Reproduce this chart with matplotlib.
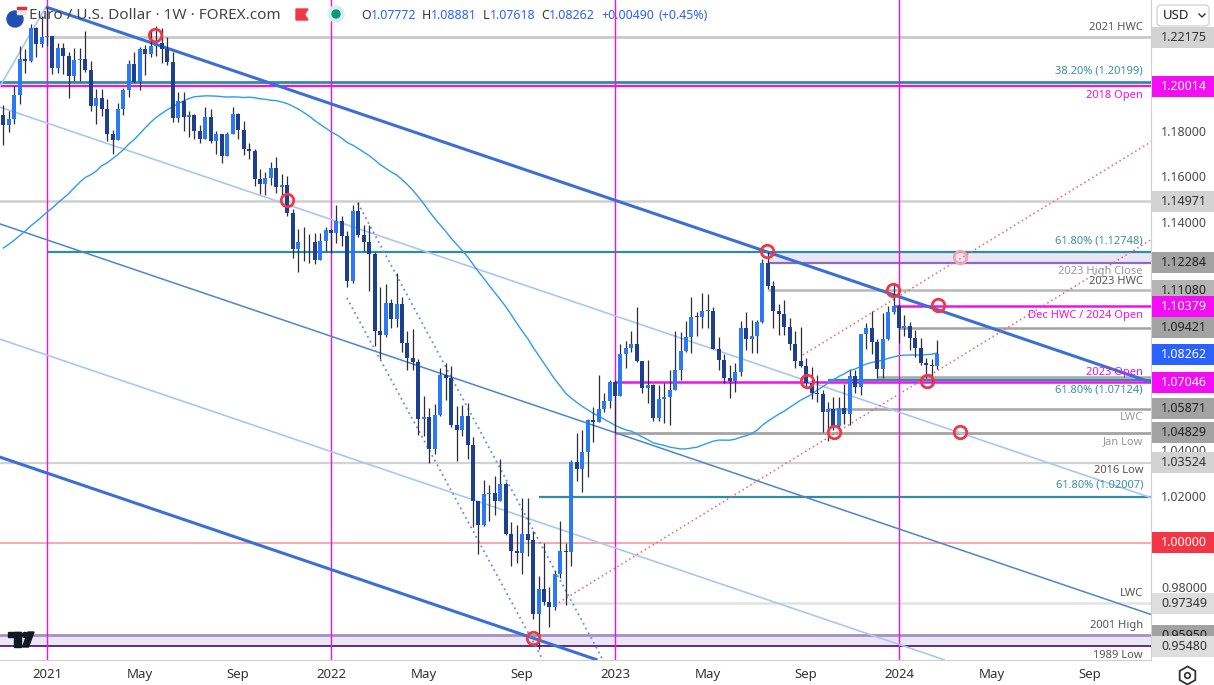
import matplotlib
matplotlib.use("Agg")
import matplotlib.pyplot as plt
import matplotlib.transforms as mtrans
from matplotlib.patches import Rectangle, FancyBboxPatch, Circle, Polygon
import numpy as np

plt.rcParams['font.family'] = ['Noto Sans', 'DejaVu Sans']

# weekly EUR/USD bars, bar 0 = week of 9 Nov 2020, bar 171 = week of 19 Feb 2024
closes = [
    1.1834, 1.1858, 1.1962, 1.2121, 1.2113, 1.2255, 1.2186, 1.2216,
    # 2021
    1.2220, 1.2081, 1.2169, 1.2136, 1.2045, 1.2118, 1.2119, 1.2075,
    1.1914, 1.1951, 1.1904, 1.1794, 1.1764, 1.1900, 1.1984, 1.2097, 1.2020,
    1.2165, 1.2143, 1.2180, 1.2192, 1.2166, 1.2109, 1.1864, 1.1937, 1.1865,
    1.1874, 1.1806, 1.1770, 1.1869, 1.1763, 1.1793, 1.1696, 1.1794, 1.1878,
    1.1812, 1.1726, 1.1720, 1.1597, 1.1574, 1.1600, 1.1645, 1.1558,
    1.1567, 1.1445, 1.1289, 1.1319, 1.1317, 1.1317, 1.1238, 1.1322, 1.1370,
    # 2022
    1.1359, 1.1412, 1.1345, 1.1147, 1.1453, 1.1350, 1.1320, 1.1267, 1.0930,
    1.0912, 1.1052, 1.0981, 1.1049, 1.0878, 1.0812, 1.0793, 1.0545,
    1.0552, 1.0413, 1.0562, 1.0734, 1.0722, 1.0518, 1.0494, 1.0555, 1.0430,
    1.0184, 1.0080, 1.0213, 1.0220, 1.0184, 1.0258, 1.0039, 0.9964, 0.9954,
    1.0041, 1.0015, 0.9689, 0.9799, 0.9741, 0.9721, 0.9862, 0.9966, 0.9960,
    1.0355, 1.0325, 1.0400, 1.0538, 1.0530, 1.0585, 1.0624, 1.0704,
    # 2023
    1.0645, 1.0830, 1.0856, 1.0870, 1.0797, 1.0677, 1.0694, 1.0548, 1.0633,
    1.0641, 1.0669, 1.0760, 1.0842, 1.0902, 1.0992, 1.0989, 1.1017,
    1.1018, 1.0850, 1.0804, 1.0723, 1.0709, 1.0751, 1.0940, 1.0893, 1.0909,
    1.0967, 1.1228, 1.1125, 1.1016, 1.1005, 1.0948, 1.0872, 1.0796, 1.0776,
    1.0699, 1.0659, 1.0653, 1.0573, 1.0587, 1.0511, 1.0593, 1.0566, 1.0730,
    1.0684, 1.0914, 1.0940, 1.0880, 1.0761, 1.0894, 1.1012, 1.1038,
    # 2024
    1.0941, 1.0950, 1.0897, 1.0855, 1.0790, 1.0782, 1.0777, 1.08262,
]
highs = [
    1.1920, 1.1894, 1.2004, 1.2177, 1.2164, 1.2273, 1.2260, 1.2310,
    1.2349, 1.2223, 1.2190, 1.2190, 1.2150, 1.2169, 1.2169, 1.2243,
    1.2113, 1.1990, 1.1989, 1.1945, 1.1810, 1.1927, 1.1994, 1.2117, 1.2150,
    1.2173, 1.2181, 1.2245, 1.2266, 1.2255, 1.2218, 1.2150, 1.1975, 1.1975,
    1.1895, 1.1880, 1.1833, 1.1909, 1.1900, 1.1805, 1.1790, 1.1802, 1.1909,
    1.1885, 1.1849, 1.1752, 1.1725, 1.1641, 1.1624, 1.1669, 1.1692,
    1.1616, 1.1609, 1.1464, 1.1374, 1.1383, 1.1355, 1.1360, 1.1360, 1.1386,
    1.1376, 1.1482, 1.1435, 1.1369, 1.1483, 1.1495, 1.1395, 1.1395, 1.1274,
    1.1121, 1.1137, 1.1070, 1.1185, 1.1076, 1.0929, 1.0936, 1.0806,
    1.0642, 1.0593, 1.0607, 1.0765, 1.0787, 1.0774, 1.0601, 1.0605, 1.0615,
    1.0463, 1.0186, 1.0278, 1.0254, 1.0294, 1.0368, 1.0269, 1.0090, 1.0079,
    1.0198, 1.0197, 1.0051, 0.9853, 0.9999, 0.9808, 0.9876, 1.0094, 1.0000,
    1.0365, 1.0481, 1.0497, 1.0545, 1.0595, 1.0737, 1.0658, 1.0713,
    1.0713, 1.0874, 1.0887, 1.0930, 1.1033, 1.0798, 1.0804, 1.0695, 1.0691,
    1.0701, 1.0760, 1.0930, 1.0926, 1.0973, 1.1076, 1.1011, 1.1095,
    1.1092, 1.1035, 1.0903, 1.0830, 1.0780, 1.0787, 1.0971, 1.1012, 1.0977,
    1.0975, 1.1244, 1.1276, 1.1149, 1.1046, 1.1065, 1.0987, 1.0930, 1.0945,
    1.0812, 1.0769, 1.0737, 1.0670, 1.0617, 1.0640, 1.0639, 1.0695, 1.0756,
    1.0756, 1.0916, 1.0965, 1.1017, 1.0895, 1.1009, 1.1040, 1.1139,
    1.1046, 1.0998, 1.0968, 1.0932, 1.0897, 1.0812, 1.0806, 1.08881,
]
lows = [
    1.1745, 1.1801, 1.1836, 1.1925, 1.2058, 1.2110, 1.2130, 1.2175,
    1.2180, 1.2054, 1.2060, 1.2055, 1.1952, 1.2024, 1.2023, 1.2062,
    1.1893, 1.1836, 1.1873, 1.1762, 1.1704, 1.1764, 1.1875, 1.1955, 1.2017,
    1.1986, 1.2052, 1.2130, 1.2133, 1.2103, 1.2093, 1.1847, 1.1847, 1.1807,
    1.1781, 1.1772, 1.1751, 1.1770, 1.1753, 1.1705, 1.1664, 1.1702, 1.1792,
    1.1772, 1.1700, 1.1683, 1.1563, 1.1529, 1.1524, 1.1571, 1.1535,
    1.1513, 1.1432, 1.1249, 1.1186, 1.1234, 1.1228, 1.1222, 1.1246, 1.1279,
    1.1272, 1.1313, 1.1300, 1.1121, 1.1140, 1.1340, 1.1280, 1.1106, 1.0862,
    1.0806, 1.0902, 1.0944, 1.0945, 1.0837, 1.0757, 1.0758, 1.0471,
    1.0470, 1.0350, 1.0389, 1.0557, 1.0627, 1.0507, 1.0359, 1.0470, 1.0366,
    1.0072, 0.9952, 1.0074, 1.0097, 1.0123, 1.0187, 1.0033, 0.9900, 0.9910,
    0.9864, 0.9944, 0.9667, 0.9536, 0.9730, 0.9632, 0.9705, 0.9848, 0.9730,
    0.9899, 1.0271, 1.0223, 1.0290, 1.0443, 1.0554, 1.0574, 1.0590,
    1.0483, 1.0646, 1.0766, 1.0835, 1.0791, 1.0655, 1.0613, 1.0533, 1.0533,
    1.0524, 1.0516, 1.0712, 1.0713, 1.0835, 1.0832, 1.0909, 1.0942,
    1.0942, 1.0849, 1.0760, 1.0702, 1.0635, 1.0663, 1.0732, 1.0845, 1.0833,
    1.0834, 1.0966, 1.1114, 1.0943, 1.0912, 1.0913, 1.0845, 1.0766, 1.0770,
    1.0686, 1.0631, 1.0617, 1.0488, 1.0448, 1.0496, 1.0496, 1.0522, 1.0516,
    1.0656, 1.0650, 1.0852, 1.0828, 1.0723, 1.0723, 1.0888, 1.1005,
    1.0877, 1.0907, 1.0844, 1.0813, 1.0780, 1.0722, 1.0695, 1.07618,
]
# closes of the 52 weeks before bar 0 (Nov 2019 - Nov 2020), seed the 52w average
pre_closes = [
    1.1052, 1.1019, 1.1017, 1.1060, 1.1122, 1.1080, 1.1177, 1.1163,
    1.1121, 1.1090, 1.1026, 1.1093, 1.0943, 1.0831, 1.0847, 1.1026, 1.1284,
    1.1106, 1.0694, 1.1141, 1.0804, 1.0937, 1.0874, 1.0819, 1.0982, 1.0836,
    1.0817, 1.0900, 1.1100, 1.1290, 1.1255, 1.1177, 1.1218, 1.1248, 1.1300,
    1.1428, 1.1655, 1.1777, 1.1786, 1.1842, 1.1797, 1.1903, 1.1838, 1.1845,
    1.1842, 1.1633, 1.1715, 1.1826, 1.1718, 1.1860, 1.1646, 1.1876,
]

tick_bars = [8, 25, 43, 60, 77, 95, 112, 129, 147, 164, 181, 199]
tick_labels = ['2021', 'May', 'Sep', '2022', 'May', 'Sep', '2023', 'May', 'Sep', '2024', 'May', 'Sep']
year_bars = [8, 60, 112, 164]

# horizontal levels
level_prices = [1.22175, 1.20199, 1.20014, 1.14971, 1.12748, 1.11080, 1.10379, 1.09421,
                1.07280, 1.07124, 1.07046, 1.05871, 1.04829, 1.03524, 1.02007, 1.00000,
                0.97349]
level_starts = [8.5, -1, -1, -1, 8, 140, 163, 164, 160, 151, 112, 151, 112, -1, 98, -1, 101]
level_labels = ['2021 HWC', '38.20% (1.20199)', '2018 Open', '', '61.80% (1.12748)', '2023 HWC',
                'Dec HWC / 2024 Open', '', '', '61.80% (1.07124)', '2023 Open', 'LWC', 'Jan Low',
                '2016 Low', '61.80% (1.02007)', '', 'LWC']

# shaded zones
zone_lo = [1.12284, 0.95480]
zone_hi = [1.12748, 0.95950]
zone_starts = [140, -1]
zone_labels_lo = ['2023 High Close', '1989 Low']
zone_labels_hi = ['', '2001 High']

# drawn trend lines, (bar, price) end points
thick_lines = [[(7.8, 1.2349), (210.2, 1.0704)],
               [(-0.7, 1.0377), (108.8, 0.9487)]]
mid_lines = [[(-0.7, 1.1399), (210.2, 0.9686)]]
light_lines = [[(-0.7, 1.1911), (210.2, 1.0198)],
               [(-0.7, 1.0894), (172.4, 0.9487)],
               [(-0.7, 1.1998), (7.8, 1.2349)]]
blue_dotted = [[(62.9, 1.1074), (98.8, 0.9487)],
               [(64.9, 1.1490), (109.8, 0.9487)]]
red_dotted = [[(101.0, 0.9728), (210.2, 1.1330)],
              [(146.4, 1.0824), (210.2, 1.1759)]]

# red circle marks
circle_bars = [27.8, 51.9, 97.0, 139.8, 147.2, 152.1, 162.9, 171.1, 169.1, 175.2]
circle_prices = [1.2226, 1.1503, 0.9583, 1.1280, 1.0710, 1.0486, 1.1109, 1.1043, 1.0710, 1.0486]
faint_circle = (175.2, 1.1253)

# price scale
axis_ticks = [1.18, 1.16, 1.14, 1.04, 1.02, 0.98]
tag_prices = [1.22175, 1.20014, 1.14971, 1.12284, 1.11080, 1.10379, 1.09421, 1.08262,
              1.07046, 1.05871, 1.04829, 1.03524, 1.00000, 0.97349, 0.95950, 0.95480]
tag_kinds = ['light', 'magenta', 'light', 'dark', 'mid', 'magenta', 'dark', 'blue',
             'magenta', 'dark', 'dark', 'light', 'red', 'pale', 'dark', 'pale']

header_name = 'Euro / U.S. Dollar · 1W · FOREX.com'
header_ohlc = [('O', '1.07772'), ('H', '1.08881'), ('L', '1.07618'), ('C', '1.08262')]
header_change = ['+0.00490', '(+0.45%)']

# ------------------------------------------------------------------
W, H = 1214, 685
PX = 0.0004383          # price per pixel
fig = plt.figure(figsize=(W / 100, H / 100), dpi=100)
ax = fig.add_axes([0, 25 / H, 1151 / W, 660 / H])
XMAX = -0.606 + 1151 / 5.4615
YTOP = 1.23797
YBOT = YTOP - 660 * PX
ax.set_xlim(-0.606, XMAX)
ax.set_ylim(YBOT, YTOP)

MAG = '#f20df2'
TEAL = '#2f8ca3'
TEAL_TXT = '#3c8fa2'

# zones
for lo, hi, st in zip(zone_lo, zone_hi, zone_starts):
    ax.fill_between([st, XMAX + 1], lo, hi, color='#ebe6f6', lw=0, zorder=1)
ax.hlines(zone_lo[0], zone_starts[0], XMAX + 1, color='#8d6cc0', lw=1.6, zorder=2)
ax.hlines(zone_hi[1], -1, XMAX + 1, color='#a590c2', lw=2.0, zorder=2)
ax.hlines(zone_lo[1], -1, XMAX + 1, color='#5e2d86', lw=1.4, zorder=2)

level_style = {
    '2021 HWC': ('#c9c9c9', 2.0), '38.20% (1.20199)': (TEAL, 2.0), '2018 Open': (MAG, 1.6),
    '61.80% (1.12748)': (TEAL, 1.6), '2023 HWC': ('#b8b8b8', 1.8),
    'Dec HWC / 2024 Open': (MAG, 1.8), '61.80% (1.07124)': (TEAL, 1.6),
    '2023 Open': (MAG, 1.8), 'LWC': ('#a3a3a3', 1.8), 'Jan Low': ('#a3a3a3', 2.0),
    '2016 Low': ('#d2d2d2', 1.6), '61.80% (1.02007)': (TEAL, 1.6),
}
other_level_style = {1.14971: ('#cfcfcf', 1.8), 1.09421: ('#a3a3a3', 1.8),
                     1.07280: ('#a8a8a8', 1.8), 1.00000: ('#f7a9ad', 1.4),
                     0.97349: ('#e2e2e2', 1.8)}
for p, st, lab in zip(level_prices, level_starts, level_labels):
    if lab in level_style:
        col, lw = level_style[lab]
    else:
        col, lw = other_level_style[p]
    if lab == 'LWC' and p < 1.0:
        col = '#e2e2e2'
    ax.hlines(p, st, XMAX + 1, color=col, lw=lw, zorder=2)

for b in year_bars:
    ax.axvline(b, color=MAG, lw=1.0, zorder=2)

def seg(lines, **kw):
    for (x0, y0), (x1, y1) in lines:
        ax.plot([x0, x1], [y0, y1], solid_capstyle='butt', **kw)

seg(light_lines, color='#a9c7f5', lw=1.2, zorder=3)
seg(mid_lines, color='#4a86d2', lw=1.1, zorder=3)
seg(thick_lines, color='#3a6fd6', lw=2.2, zorder=3)
seg(blue_dotted, color='#5b8ef2', lw=1.3, ls=(0, (1, 2)), zorder=3)
seg(red_dotted, color='#f0606e', lw=1.1, ls=(0, (1, 2)), zorder=3)

# 52 week moving average
all_closes = np.array(pre_closes + closes)
ma = np.array([all_closes[i + 1:i + 53].mean() for i in range(len(closes))])
bars = np.arange(len(closes))
ax.plot(bars, ma, color='#2e9cf2', lw=1.0, zorder=4)

# candles
closes_a = np.array(closes)
opens_a = np.array([pre_closes[-1]] + closes[:-1])
highs_a = np.maximum(np.array(highs), np.maximum(opens_a, closes_a))
lows_a = np.minimum(np.array(lows), np.minimum(opens_a, closes_a))
up = closes_a >= opens_a
ax.vlines(bars, lows_a, highs_a, color='#2a2e39', lw=0.9, zorder=5)
body_lo = np.minimum(opens_a, closes_a)
body_h = np.maximum(np.abs(closes_a - opens_a), 0.0004)
ax.bar(bars, body_h, bottom=body_lo, width=0.72,
       color=np.where(up, '#2b79f3', '#1c3f8f'), lw=0, zorder=6)

# circles
ax.plot(circle_bars, circle_prices, 'o', ms=9, mfc='none', mec='#f23645', mew=2.0, zorder=7)
ax.plot([faint_circle[0]], [faint_circle[1]], 'o', ms=9, mfc='none', mec='#f5a3aa', mew=2.0, zorder=7)

# level labels
tr = mtrans.blended_transform_factory(ax.transAxes, ax.transData)
XL = 1143 / 1151
LFS = 8.0
lab_look = {
    '2021 HWC': ('#555555', 10), '38.20% (1.20199)': (TEAL_TXT, 11), '2018 Open': (MAG, -9),
    '61.80% (1.12748)': (TEAL_TXT, 11), '2023 HWC': ('#555555', 9),
    'Dec HWC / 2024 Open': (MAG, -9), '2023 Open': (MAG, 10),
    '61.80% (1.07124)': (TEAL_TXT, -10), 'Jan Low': ('#9a9a9a', -9),
    '2016 Low': ('#555555', -8), '61.80% (1.02007)': (TEAL_TXT, 12),
}
for p, lab in zip(level_prices, level_labels):
    if not lab:
        continue
    if lab == 'LWC':
        col, dy = ('#9a9a9a', -9) if p > 1.0 else ('#555555', 10)
    else:
        col, dy = lab_look[lab]
    ax.text(XL, p + dy * PX, lab, transform=tr, ha='right', va='center',
            fontsize=LFS, color=col, zorder=8)
ax.text(XL, zone_lo[0] - 9 * PX, zone_labels_lo[0], transform=tr, ha='right', va='center',
        fontsize=LFS, color='#9a9a9a', zorder=8)
ax.text(XL, zone_lo[1] - 9 * PX, zone_labels_lo[1], transform=tr, ha='right', va='center',
        fontsize=LFS, color='#555555', zorder=8)
ax.text(XL, zone_hi[1] + 10 * PX, zone_labels_hi[1], transform=tr, ha='right', va='center',
        fontsize=LFS, color='#555555', zorder=8)

# x axis
ax.set_yticks([])
ax.set_xticks(tick_bars)
ax.set_xticklabels(tick_labels, fontsize=9.5, color='#333333')
for t, lab in zip(ax.get_xticklabels(), tick_labels):
    if lab.isdigit():
        t.set_fontweight('bold')
ax.tick_params(axis='x', length=0, pad=6)
for s in ['top', 'left']:
    ax.spines[s].set_visible(False)
ax.spines['bottom'].set_color('#d0d0d0')
ax.spines['right'].set_color('#d0d0d0')

# price scale
ax2 = fig.add_axes([1151 / W, 25 / H, 63 / W, 660 / H])
ax2.set_xlim(0, 1)
ax2.set_ylim(YBOT, YTOP)
ax2.axis('off')
for p in axis_ticks:
    ax2.text(0.53, p, f'{p:.5f}', ha='center', va='center', fontsize=9, color='#4a4a4a',
             zorder=0.5)
kind_col = {'light': ('#d3d3d3', '#333333'), 'pale': ('#dedede', '#333333'),
            'dark': ('#a2a2a2', '#222222'), 'mid': ('#b4b4b4', '#222222'),
            'magenta': (MAG, 'white'), 'blue': ('#2962ff', 'white'), 'red': ('#f23645', 'white')}
th = 21 * PX
for i, (p, k) in enumerate(zip(tag_prices, tag_kinds)):
    fc, tc = kind_col[k]
    ax2.add_patch(Rectangle((0.02, p - th / 2), 0.98, th, fc=fc, ec='none', zorder=1 + 2 * i))
    bold = k in ('magenta', 'blue', 'red')
    ax2.text(0.53, p, f'{p:.5f}', ha='center', va='center', fontsize=9, color=tc,
             fontweight='bold' if bold else 'normal', zorder=2 + 2 * i)

# chrome overlay in pixel coordinates
ov = fig.add_axes([0, 0, 1, 1])
ov.set_xlim(0, W)
ov.set_ylim(H, 0)
ov.axis('off')
ov.patch.set_alpha(0)

ov.add_patch(Circle((15, 19), 8, color='#1f4fb0'))
ov.add_patch(Rectangle((17, 7), 9, 7, color='#e8e8f0'))
ov.add_patch(Rectangle((17, 7), 9, 2, color='#e03040'))
ov.text(29, 15, header_name, fontsize=11, color='#444444', va='center', ha='left')
ov.add_patch(Polygon([(296, 9), (308, 9), (304.5, 14.5), (308, 20), (296, 20)], color='#f23645'))
ov.add_patch(Circle((336, 14), 8, color='#d9f0ea'))
ov.add_patch(Circle((336, 14), 4, color='#089981'))

fig.canvas.draw()
rend = fig.canvas.get_renderer()
xcur = 361
def put(s, col):
    global xcur
    t = ov.text(xcur, 15, s, fontsize=8.9, color=col, va='center', ha='left')
    bb = t.get_window_extent(renderer=rend)
    xcur += bb.width
    return t
for letter, val in header_ohlc:
    put(letter, '#333333')
    put(val, '#2962ff')
    xcur += 6
for s in header_change:
    put(s, '#2962ff')
    xcur += 5

# USD selector
ov.add_patch(FancyBboxPatch((1157, 5), 52, 21, boxstyle='round,pad=0,rounding_size=4',
                            fc='white', ec='#d4d4d4', lw=1))
ov.text(1163, 15.5, 'USD', fontsize=9.5, color='#222222', va='center', ha='left')
ov.plot([1199, 1202, 1205], [14, 17, 14], color='#333333', lw=1)

# gear icon
ov.plot([1187], [675], marker='h', ms=13, mfc='none', mec='#333333', mew=1.3)
ov.plot([1187], [675], marker='o', ms=4, mfc='none', mec='#333333', mew=1.2)

# TradingView logo
ov.add_patch(Rectangle((8, 632), 13, 5, color='#131722'))
ov.add_patch(Rectangle((14, 632), 7, 15, color='#131722'))
ov.add_patch(Circle((25, 635), 2.6, color='#131722'))
ov.add_patch(Polygon([(28, 632), (34, 632), (28.5, 647), (22.5, 647)], color='#131722'))

fig.savefig('out.png', dpi=100, facecolor='white')
